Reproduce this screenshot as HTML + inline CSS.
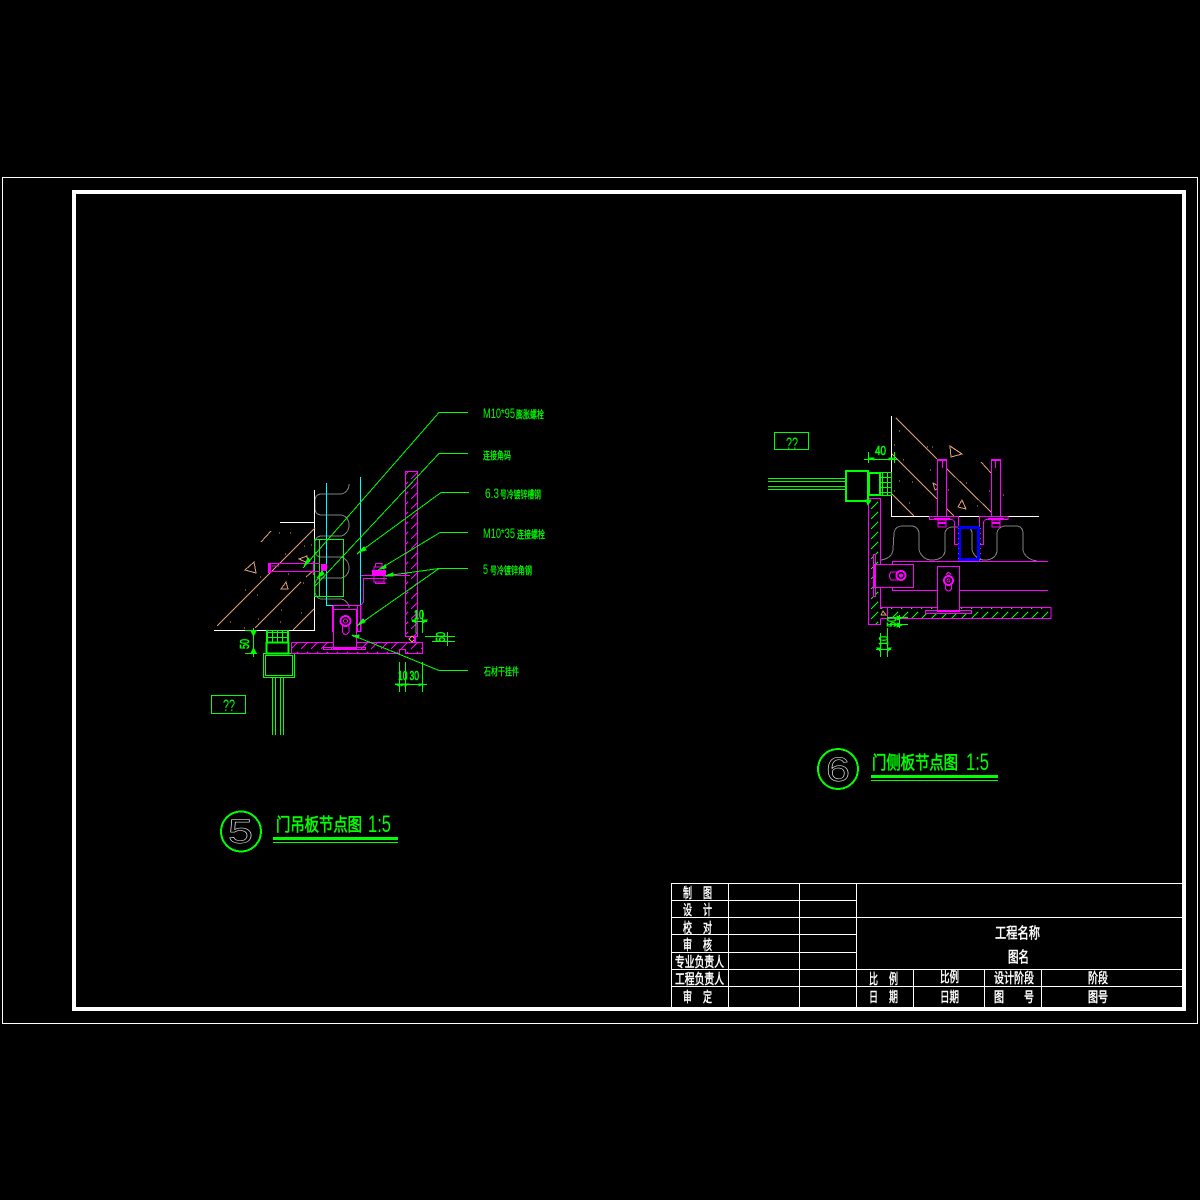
<!DOCTYPE html>
<html><head><meta charset="utf-8"><style>
html,body{margin:0;padding:0;background:#000;width:1200px;height:1200px;overflow:hidden}
svg{display:block}
text{font-family:"Liberation Sans","WenQuanYi Zen Hei","Noto Sans CJK SC",sans-serif}
.w{fill:#fff;stroke:#fff;stroke-width:.5;font-size:14px}
.g{fill:#0f0;stroke:#0f0;stroke-width:.3;font-size:10.5px}
.n{fill:#0f0;font-size:14px}
.gb{fill:#0f0;stroke:#0f0;stroke-width:.6;font-size:13px}
.t{fill:#0f0;stroke:#0f0;stroke-width:.6;font-size:18px}
.tl{fill:#0f0;font-size:24px}
</style></head><body>
<svg width="1200" height="1200" viewBox="0 0 1200 1200" xmlns="http://www.w3.org/2000/svg" shape-rendering="crispEdges">
<defs>
<pattern id="hm" width="10" height="10" patternUnits="userSpaceOnUse"><path d="M1 9L8 2" stroke="#f0f" stroke-width="1" fill="none"/></pattern>
<pattern id="hg" width="10" height="10" patternUnits="userSpaceOnUse"><path d="M1 9L8 2" stroke="#0f0" stroke-width="1" fill="none"/></pattern>
<pattern id="hb" width="5" height="5" patternUnits="userSpaceOnUse"><path d="M0 2.5H5M2.5 0V5" stroke="#0f0" stroke-width="1" fill="none"/></pattern>
</defs>
<rect width="1200" height="1200" fill="#000"/>

<!-- frame -->
<g fill="none" stroke="#fff">
<rect x="2.5" y="177.5" width="1195" height="846" stroke-width="1"/>
<rect x="74" y="192" width="1110" height="817" stroke-width="4"/>
<path stroke-width="1" d="M671.5 884V1007M728.5 884V1007M799.5 884V1007M856.5 884V1007M913.5 969V1007M984.5 969V1007M1041.5 969V1007M671 883.5H1182M671 900.5H857M671 917.5H1182M671 934.5H857M671 952.5H857M671 969.5H1182M671 986.5H1182"/>
</g>

<!-- title block text -->
<g class="w">
<text x="683" y="898" textLength="9" lengthAdjust="spacingAndGlyphs">制</text><text x="703" y="898" textLength="9" lengthAdjust="spacingAndGlyphs">图</text>
<text x="683" y="915" textLength="9" lengthAdjust="spacingAndGlyphs">设</text><text x="703" y="915" textLength="9" lengthAdjust="spacingAndGlyphs">计</text>
<text x="683" y="933" textLength="9" lengthAdjust="spacingAndGlyphs">校</text><text x="703" y="933" textLength="9" lengthAdjust="spacingAndGlyphs">对</text>
<text x="683" y="950" textLength="9" lengthAdjust="spacingAndGlyphs">审</text><text x="703" y="950" textLength="9" lengthAdjust="spacingAndGlyphs">核</text>
<text x="675" y="967" textLength="49" lengthAdjust="spacingAndGlyphs">专业负责人</text>
<text x="675" y="984" textLength="49" lengthAdjust="spacingAndGlyphs">工程负责人</text>
<text x="683" y="1002" textLength="9" lengthAdjust="spacingAndGlyphs">审</text><text x="703" y="1002" textLength="9" lengthAdjust="spacingAndGlyphs">定</text>
<text x="869" y="984" textLength="9" lengthAdjust="spacingAndGlyphs">比</text><text x="889" y="984" textLength="9" lengthAdjust="spacingAndGlyphs">例</text>
<text x="869" y="1002" textLength="9" lengthAdjust="spacingAndGlyphs">日</text><text x="889" y="1002" textLength="9" lengthAdjust="spacingAndGlyphs">期</text>
<text x="940" y="982" textLength="19" lengthAdjust="spacingAndGlyphs">比例</text>
<text x="940" y="1002" textLength="19" lengthAdjust="spacingAndGlyphs">日期</text>
<text x="994" y="983" textLength="40" lengthAdjust="spacingAndGlyphs">设计阶段</text>
<text x="994" y="1002" textLength="10" lengthAdjust="spacingAndGlyphs">图</text><text x="1024" y="1002" textLength="10" lengthAdjust="spacingAndGlyphs">号</text>
<text x="1088" y="983" textLength="20" lengthAdjust="spacingAndGlyphs">阶段</text>
<text x="1088" y="1002" textLength="20" lengthAdjust="spacingAndGlyphs">图号</text>
<text x="995" y="938" textLength="45" lengthAdjust="spacingAndGlyphs" style="font-size:15px">工程名称</text>
<text x="1008" y="962" textLength="21" lengthAdjust="spacingAndGlyphs" style="font-size:15px">图名</text>
</g>

<!-- LEFT DETAIL -->
<g fill="none">
<!-- grey wave -->
<path stroke="#808080" d="M349 484C349 490 345 494 340 494H322C317 494 315 497 315 501V508C315 512 317 515 322 515H340C345 515 349 519 349 525C349 531 345 536 340 536H322C317 536 315 539 315 543V550C315 554 317 557 322 557H340C345 557 349 562 349 568C349 574 345 578 340 578H322C317 578 315 581 315 585V590C315 595 317 599 322 599H340C345 599 349 603 349 608"/>
<!-- white -->
<path stroke="#fff" d="M314.5 490V630.5H214M280 522.5H314"/>
<!-- tan -->
<path stroke="#e0a070" d="M217 626L315 528M255 628L301 582M293 630L314 609M261 542L271 531M306 577L313 571"/>
<path stroke="#e0a070" d="M245 570L254 562L256 573ZM299 559L307 556L308 563ZM281 589L286 582L288 589Z"/>
<path stroke="#e0a070" d="M279 533h1M290 533h1M285 554h1M304 546h1M311 545h1M288 574h1M303 583h1M260 577h1M245 590h1M257 595h1M281 610h1M301 613h1M258 619h1M230 622h1M280 622h1M244 628h1"/>
<!-- cyan -->
<path stroke="#0ff" d="M326.5 483V605.5H360.5V477"/>
<!-- green hatched stack & box -->
<rect x="266.5" y="630.5" width="22" height="12" fill="url(#hb)" stroke="#0f0"/>
<rect x="266.5" y="642.5" width="22" height="11" stroke="#0f0" stroke-width="2"/>
<rect x="263.5" y="653.5" width="31" height="24" stroke="#0f0"/>
<rect x="265.5" y="655.5" width="27" height="20" stroke="#0f0"/>
<path stroke="#0f0" d="M272.5 678V735M275.5 678V735M280.5 678V735M283.5 678V735"/>
<!-- green rect -->
<path stroke="#0f0" d="M314.5 539.5H343.5V596.5H314.5ZM319.5 540V596"/>
<!-- magenta column + base -->
<rect x="405.5" y="471.5" width="12" height="165" fill="url(#hm)" stroke="#f0f"/>
<path d="M291.5 642.5H422.5V653.5H405.5V649.5H399.5V653.5H291.5Z" fill="url(#hm)" stroke="#f0f"/>
<!-- bracket -->
<rect x="333.5" y="609.5" width="23" height="38" fill="#000" stroke="#f0f"/>
<path stroke="#f0f" stroke-width="2" d="M333 606V632"/>
<path stroke="#f0f" d="M333 605.5H360.5V631.5H357.5V606M323.5 647.5H365.5V649.5H323.5Z"/>
<rect x="333" y="647" width="24" height="3" fill="#f0f"/>
<circle cx="345.5" cy="621" r="5" stroke="#f0f" stroke-width="2"/>
<circle cx="345.5" cy="621" r="2" stroke="#f0f"/>
<path stroke="#f0f" d="M342.5 626V632Q345.5 637 349 632V626"/>
<!-- top-left bolt -->
<path stroke="#f0f" d="M269.5 563.5H320M269.5 571.5H320M272 566H279"/>
<rect x="268" y="563" width="3" height="10" fill="#f0f"/>
<path stroke="#f0f" d="M313.5 561V575"/>
<rect x="321" y="564" width="6" height="7" fill="#f0f"/>
<!-- right bolt and angle -->
<path stroke="#f0f" d="M361 575.5H410M363.5 578.5H387M363.5 578V602L361 605M375.5 563.5H382V567M375.5 563.5V567M375.5 582V583.5H385V582M361 606V632"/>
<rect x="372" y="570" width="14" height="6" fill="#f0f"/>
<rect x="374" y="567" width="10" height="15" stroke="#f0f"/>
<!-- tan small -->
<path stroke="#e0a070" d="M409 639L412 636L415 639L412 642Z"/>
<rect x="414" y="637" width="2" height="5" fill="#f0f"/>
<!-- leaders -->
<path stroke="#0f0" d="M468 412.5H439L303 568M468 453.5H439L315 586M469 492.5H441L357 554M468 532.5H440L378 570M468 568.5H439L385 576M439 568.5L357 626M468 670.5H439L352 635"/>
<path fill="#0f0" stroke="#0f0" d="M304 566L308 558L310 561ZM317 578L322 571L324 574ZM359 552L364 547L366 550ZM380 569L385 565L386 568ZM385 576L393 573L393 576ZM358 625L363 619L365 622ZM353 636L359 635L358 638Z"/>
<!-- dims -->
<path stroke="#0f0" d="M253.5 628V657M245 630.5H257M245 653.5H257M416 610V633M422.5 610V633M412 621.5H427M425 636.5H455M432 641.5H455M447.5 632V646M399.5 662V692M405.5 662V692M422.5 662V692M395 684.5H427"/>
<path stroke="#0f0" fill="#0f0" d="M251 631H256L253.5 636ZM251 653H256L253.5 648ZM412 620H416V623ZM427 620H423V623ZM395 684H399V686ZM405 684H401V686ZM408 684H405V686ZM423 684H419V686Z"/>
<!-- ?? -->
<rect x="211.5" y="695.5" width="34" height="18" stroke="#0f0"/>
</g>
<text x="223" y="711" textLength="12" lengthAdjust="spacingAndGlyphs" style="font-size:17px;fill:#0f0">??</text>

<g class="gb">
<text x="0" y="0" transform="translate(249,649) rotate(-90)" textLength="10" lengthAdjust="spacingAndGlyphs">50</text>
<text x="414" y="619" textLength="10" lengthAdjust="spacingAndGlyphs">10</text>
<text x="445" y="642" transform="rotate(-90 445 642)" textLength="10" lengthAdjust="spacingAndGlyphs">50</text>
<text x="398" y="680" textLength="9.5" lengthAdjust="spacingAndGlyphs">10</text>
<text x="409.5" y="680" textLength="9.5" lengthAdjust="spacingAndGlyphs">30</text>
</g>

<text class="n" x="483" y="418" textLength="32" lengthAdjust="spacingAndGlyphs">M10*95</text>
<text class="n" x="485" y="498" textLength="14" lengthAdjust="spacingAndGlyphs">6.3</text>
<text class="n" x="483" y="538" textLength="32" lengthAdjust="spacingAndGlyphs">M10*35</text>
<text class="n" x="483" y="574" textLength="5" lengthAdjust="spacingAndGlyphs">5</text>
<g class="g">
<text x="516" y="418" textLength="28" lengthAdjust="spacingAndGlyphs">膨胀螺栓</text>
<text x="483" y="459" textLength="28" lengthAdjust="spacingAndGlyphs">连接角码</text>
<text x="500" y="498" textLength="41" lengthAdjust="spacingAndGlyphs">号冷镀锌槽钢</text>
<text x="517" y="538" textLength="28" lengthAdjust="spacingAndGlyphs">连接螺栓</text>
<text x="490" y="574" textLength="42" lengthAdjust="spacingAndGlyphs">号冷镀锌角钢</text>
<text x="484" y="675" textLength="35" lengthAdjust="spacingAndGlyphs">石材干挂件</text>
</g>

<!-- title 5 -->
<circle cx="241" cy="831.5" r="20" fill="none" stroke="#0f0" stroke-width="2"/>
<text x="228" y="843" textLength="25" lengthAdjust="spacingAndGlyphs" style="font-size:34px;fill:none;stroke:#fff;stroke-width:.5">5</text>
<text class="t" x="276" y="831" textLength="86" lengthAdjust="spacingAndGlyphs">门吊板节点图</text>
<text class="tl" x="368" y="832" textLength="23" lengthAdjust="spacingAndGlyphs">1:5</text>
<rect x="273" y="837" width="125" height="3" fill="#0f0"/>
<rect x="273" y="842" width="125" height="1" fill="#0f0"/>

<!-- RIGHT DETAIL -->
<g fill="none">
<!-- grey waves -->
<path stroke="#808080" d="M881 560C888 559 892 556 893 550L894 533C895 527 899 526 903 526H911C916 526 919 529 919 534V550C921 556 925 560 932 560C940 560 945 556 945 550V534C945 529 949 527 953 527H965C970 527 972 530 972 534V550C974 556 978 560 985 560C992 560 997 556 997 550V534C997 529 1001 526 1006 526H1016C1021 526 1023 529 1023 534V550C1024 556 1030 560 1037 561"/>
<!-- white -->
<path stroke="#fff" d="M891.5 416V516.5H1039"/>
<!-- tan -->
<path stroke="#e0a070" d="M896 418L937 459M946 468L992 513M892 454L937 499M946 508L954 516M892 494L914 516M981 462L991 473"/>
<path stroke="#e0a070" d="M950 446L962 454L951 457ZM933 483L940 487L935 490ZM962 500L958 507L966 509Z"/>
<path stroke="#e0a070" d="M899 431h1M894 445h1M903 460h1M932 447h1M927 447h1M899 481h1M912 482h1M894 491h1M909 503h1M977 506h1M968 490h1M989 491h1M966 483h1M948 490h1M1003 495h1M930 470h1"/>
<!-- bolts -->
<rect x="937.5" y="459.5" width="9" height="57" fill="#000" stroke="#f0f"/>
<rect x="991.5" y="459.5" width="9" height="57" fill="#000" stroke="#f0f"/>
<rect x="937" y="459" width="10" height="2" fill="#f0f"/>
<rect x="991" y="459" width="10" height="2" fill="#f0f"/>
<path stroke="#f0f" d="M942.5 461V468M995.5 461V468"/>
<!-- brackets -->
<path stroke="#f0f" d="M929.5 516.5H958.5V544.5H954.5V522C954 520 953 519.5 950 519.5H929.5ZM1008 516.5H979.5V544.5H983.5V522C984 520 985 519.5 988 519.5H1008Z"/>
<rect x="934" y="518" width="16" height="2" fill="#f0f"/>
<rect x="988" y="518" width="16" height="2" fill="#f0f"/>
<rect x="938" y="520" width="8" height="7" stroke="#f0f"/>
<rect x="992" y="520" width="8" height="7" stroke="#f0f"/>
<rect x="938" y="522" width="8" height="2" fill="#f0f"/>
<rect x="992" y="522" width="8" height="2" fill="#f0f"/>
<!-- blue -->
<rect x="958" y="526" width="22" height="3" fill="#00f"/>
<rect x="958" y="558" width="22" height="3" fill="#00f"/>
<path stroke="#00f" stroke-width="3" d="M959.5 526V561M978.5 526V561"/>
<path stroke="#f0f" stroke-dasharray="1 4" d="M958.5 528V560M980.5 528V560"/>
<path stroke="#0f0" d="M979 526h1M979 560h1"/>
<!-- channels -->
<path stroke="#f0f" d="M892.5 564V561.5H1048M892.5 588V590.5H1048"/>
<!-- wall and base -->
<rect x="868.5" y="498.5" width="12" height="126" fill="url(#hg)" stroke="#f0f"/>
<path d="M881 607.5H1051V618.5H881" fill="url(#hg)" stroke="#f0f"/>
<rect x="880" y="609" width="7" height="10" fill="#000"/>
<path stroke="#f0f" d="M880.5 618.5H887.5V608M880.5 607.5H887.5"/>
<path stroke="#e0a070" d="M881 615L883 611L886 615Z"/>
<!-- plates -->
<rect x="873.5" y="554.5" width="2" height="42" fill="#000" stroke="#f0f"/>
<rect x="874.5" y="564.5" width="39" height="23" fill="#000" stroke="#f0f" stroke-width="1"/>
<path stroke="#f0f" stroke-width="2" d="M875 564V588"/>
<circle cx="901" cy="575.5" r="4.5" stroke="#f0f" stroke-width="2"/>
<circle cx="901" cy="575.5" r="2" fill="#f0f"/>
<path stroke="#f0f" d="M899 572H891Q888 575.5 891 580H899"/>
<rect x="925.5" y="610.5" width="46" height="3" fill="#000" stroke="#f0f"/>
<rect x="937.5" y="566.5" width="22" height="45" fill="#000" stroke="#f0f"/>
<rect x="937" y="610" width="23" height="2" fill="#f0f"/>
<circle cx="948.5" cy="580.5" r="4.5" stroke="#f0f" stroke-width="2"/>
<circle cx="948.5" cy="580.5" r="1.5" stroke="#f0f"/>
<path stroke="#f0f" d="M945.5 585V589Q948.5 593 951.5 589V585M946 575Q948.5 570 951 575"/>
<!-- green connector -->
<rect x="846" y="471" width="22" height="30" stroke="#0f0" stroke-width="2"/>
<path stroke="#0f0" d="M768 478.5H845M768 481.5H845M768 486.5H845M768 489.5H845"/>
<rect x="869" y="473" width="11" height="22" stroke="#0f0" stroke-width="2"/>
<rect x="880.5" y="472.5" width="11" height="23" fill="url(#hb)" stroke="#0f0"/>
<path fill="#0f0" stroke="#0f0" d="M866 500H871L868 505Z"/>
<!-- ?? -->
<rect x="774.5" y="432.5" width="34" height="17" stroke="#0f0"/>
<!-- dims -->
<path stroke="#0f0" d="M864 459.5H897M868.5 452V463M894.5 452V463M887 617.5H908M887 624.5H908M899.5 615V628M880.5 633V657M887.5 628V657M876 649.5H891"/>
<path stroke="#0f0" fill="#0f0" d="M869 458H874V460ZM894 458H889V460ZM897 616L902 618L897 620ZM897 623L902 625L897 627ZM877 648H880V651ZM891 648H888V651Z"/>
</g>
<text x="786" y="449" textLength="12" lengthAdjust="spacingAndGlyphs" style="font-size:17px;fill:#0f0">??</text>
<g class="gb">
<text x="875" y="455" textLength="11" lengthAdjust="spacingAndGlyphs">40</text>
<text x="896" y="627" transform="rotate(-90 896 627)" textLength="10" lengthAdjust="spacingAndGlyphs">50</text>
<text x="888" y="646" transform="rotate(-90 888 646)" textLength="10" lengthAdjust="spacingAndGlyphs">10</text>
</g>

<!-- title 6 -->
<circle cx="838" cy="769" r="20" fill="none" stroke="#0f0" stroke-width="2"/>
<text x="826" y="781" textLength="24" lengthAdjust="spacingAndGlyphs" style="font-size:34px;fill:none;stroke:#fff;stroke-width:.5">6</text>
<text class="t" x="872" y="769" textLength="86" lengthAdjust="spacingAndGlyphs">门侧板节点图</text>
<text class="tl" x="966" y="770" textLength="23" lengthAdjust="spacingAndGlyphs">1:5</text>
<rect x="871" y="775" width="127" height="3" fill="#0f0"/>
<rect x="871" y="780" width="127" height="1" fill="#0f0"/>
</svg>
</body></html>
